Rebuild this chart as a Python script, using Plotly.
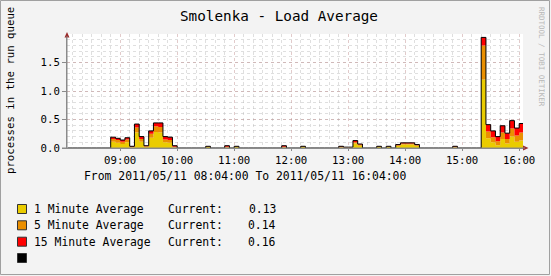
import plotly.graph_objects as go
import pandas as pd

# ---- data (5-minute samples, timestamp = end of interval) ----
times = pd.date_range("2011-05-11 08:05", periods=97, freq="5min")

one_min = [0]*10 + [
    0.11, 0.09, 0.07, 0.10, 0.01, 0.27, 0.11, 0.02, 0.18, 0.28,
    0.27, 0.10, 0.09, 0.01, 0, 0, 0, 0, 0, 0,
    0.02, 0, 0, 0, 0.01, 0, 0.02, 0, 0, 0,
    0, 0, 0, 0, 0, 0, 0.01, 0, 0, 0,
    0.02, 0, 0, 0, 0, 0, 0, 0, 0.01, 0.005,
    0.005, 0.08, 0.04, 0, 0, 0, 0.02, 0, 0.02, 0,
    0.04, 0.06, 0.06, 0.06, 0.04, 0, 0, 0, 0, 0,
    0, 0, 0.01, 0, 0, 0, 0, 0, 1.20, 0.17,
    0.10, 0.05, 0.16, 0.08, 0.20, 0.11, 0.13]

five_min = [0]*10 + [
    0.05, 0.05, 0.04, 0.05, 0.01, 0.09, 0.05, 0.01, 0.07, 0.10,
    0.10, 0.05, 0.05, 0.01, 0, 0, 0, 0, 0, 0,
    0.005, 0, 0, 0, 0.01, 0, 0.005, 0, 0, 0,
    0, 0, 0, 0, 0, 0, 0.01, 0, 0, 0,
    0.005, 0, 0, 0, 0, 0, 0, 0, 0.01, 0.005,
    0.005, 0.02, 0.02, 0, 0, 0, 0.005, 0, 0.005, 0,
    0.01, 0.02, 0.02, 0.02, 0.01, 0, 0, 0, 0, 0,
    0, 0, 0.01, 0, 0, 0, 0, 0, 0.60, 0.12,
    0.09, 0.07, 0.11, 0.08, 0.14, 0.11, 0.14]

fifteen_min = [0]*10 + [
    0.03, 0.03, 0.03, 0.03, 0.01, 0.06, 0.04, 0.01, 0.05, 0.06,
    0.07, 0.05, 0.05, 0.02, 0, 0, 0, 0, 0, 0,
    0.005, 0, 0, 0, 0.02, 0, 0.005, 0, 0, 0,
    0, 0, 0, 0, 0, 0, 0.02, 0, 0, 0,
    0.005, 0, 0, 0, 0, 0, 0, 0, 0.01, 0.005,
    0.005, 0.03, 0.01, 0, 0, 0, 0.005, 0, 0.005, 0,
    0.01, 0.01, 0.01, 0.01, 0.01, 0, 0, 0, 0, 0,
    0, 0, 0.01, 0, 0, 0, 0, 0, 0.14, 0.12,
    0.11, 0.08, 0.12, 0.10, 0.14, 0.13, 0.16]

series_names = ["1 Minute Average", "5 Minute Average", "15 Minute Average"]
series_colors = ["#EACC00", "#EA8F00", "#FF0000"]
series_values = [one_min, five_min, fifteen_min]
y_ticks = [0.0, 0.5, 1.0, 1.5]

FONT = "DejaVu Sans Mono"

# pixel -> paper helpers (plot area 67..523 x 34..148)
L, R, T, B = 67, 523, 34, 148
def px(x): return (x - L) / (R - L)
def py(y): return (B - y) / (B - T)

fig = go.Figure()
for name, col, vals in zip(series_names, series_colors, series_values):
    fig.add_trace(go.Scatter(
        x=times, y=vals, name=name, mode="lines", stackgroup="load",
        line=dict(width=0, shape="vh", color=col), fillcolor=col,
        showlegend=False, hoverinfo="skip"))

total = [a + b + c for a, b, c in zip(one_min, five_min, fifteen_min)]
fig.add_trace(go.Scatter(x=times, y=total, mode="lines",
                         line=dict(width=1, shape="vh", color="#000000"),
                         showlegend=False, hoverinfo="skip"))

MAJ = "rgba(190,140,140,0.45)"
MIN = "rgba(185,185,185,0.45)"

fig.update_layout(
    width=551, height=276,
    margin=dict(l=L, r=551 - R, t=T, b=276 - B, pad=0),
    paper_bgcolor="#F3F3F3", plot_bgcolor="#FFFFFF",
    font=dict(family=FONT, size=10.7, color="#000000"),
    xaxis=dict(
        type="date",
        range=["2011-05-11 08:04:00", "2011-05-11 16:04:00"],
        dtick=3600000, tick0="2011-05-11 00:00:00", tickformat="%H:%M",
        showgrid=True, gridcolor=MAJ, griddash="dot", gridwidth=1,
        minor=dict(dtick=600000, tick0="2011-05-11 08:00:00", showgrid=True,
                   gridcolor=MIN, griddash="dot"),
        showline=True, linecolor="#8a8a8a", linewidth=1,
        ticks="outside", ticklen=2, tickcolor="#8a8a8a",
        tickfont=dict(family=FONT, size=10.7),
        zeroline=False, fixedrange=True),
    yaxis=dict(
        range=[0, 2], tickvals=y_ticks, ticktext=[f"{v:.1f}" for v in y_ticks],
        showgrid=True, gridcolor=MAJ, griddash="dot",
        minor=dict(dtick=0.1, showgrid=True, gridcolor=MIN, griddash="dot"),
        showline=True, linecolor="#8a8a8a", linewidth=1,
        ticks="outside", ticklen=4, tickcolor="#8a8a8a",
        tickfont=dict(family=FONT, size=10.7),
        zeroline=False, fixedrange=True),
)

ann = []
ann.append(dict(text="Smolenka - Load Average", x=px(279), y=py(16), xref="paper", yref="paper",
                showarrow=False, xanchor="center", yanchor="middle",
                font=dict(family=FONT, size=14.3, color="#000000")))
ann.append(dict(text="processes in the run queue", x=px(10), y=py(91), xref="paper", yref="paper",
                showarrow=False, xanchor="center", yanchor="middle", textangle=-90,
                font=dict(family=FONT, size=10.7, color="#000000")))
ann.append(dict(text="RRDTOOL / TOBI OETIKER", x=px(542), y=py(57), xref="paper", yref="paper",
                showarrow=False, xanchor="center", yanchor="middle", textangle=90,
                font=dict(family=FONT, size=7.5, color="#B8B8B8")))
ann.append(dict(text="From 2011/05/11 08:04:00 To 2011/05/11 16:04:00", x=px(82), y=py(175.5),
                xref="paper", yref="paper", showarrow=False, xanchor="left", yanchor="middle",
                font=dict(family=FONT, size=11.4, color="#000000")))

shapes = []
rows_y = [209, 225.3, 241.7, 258]
legend_cols = series_colors + ["#000000"]
for i, yy in enumerate(rows_y):
    shapes.append(dict(type="rect", xref="paper", yref="paper",
                       x0=px(17.5), x1=px(26.5), y0=py(yy - 4.5), y1=py(yy + 4.5),
                       fillcolor=legend_cols[i], line=dict(color="#333333", width=1)))
for i, name in enumerate(series_names):
    yy = rows_y[i]
    ann.append(dict(text=name, x=px(31.5), y=py(yy), xref="paper", yref="paper",
                    showarrow=False, xanchor="left", yanchor="middle",
                    font=dict(family=FONT, size=11.4)))
    ann.append(dict(text="Current:", x=px(165.5), y=py(yy), xref="paper", yref="paper",
                    showarrow=False, xanchor="left", yanchor="middle",
                    font=dict(family=FONT, size=11.4)))
    ann.append(dict(text=f"{series_values[i][-1]:.2f}", x=px(278), y=py(yy), xref="paper",
                    yref="paper", showarrow=False, xanchor="right", yanchor="middle",
                    font=dict(family=FONT, size=11.4)))

# axis arrows
shapes.append(dict(type="path", xref="paper", yref="paper",
                   path=f"M {px(64.5)} {py(37.5)} L {px(69.5)} {py(37.5)} L {px(67)} {py(32)} Z",
                   fillcolor="#9A2B2B", line=dict(width=0)))
shapes.append(dict(type="path", xref="paper", yref="paper",
                   path=f"M {px(523)} {py(145.5)} L {px(523)} {py(150.5)} L {px(528.5)} {py(148)} Z",
                   fillcolor="#9A2B2B", line=dict(width=0)))
shapes.append(dict(type="line", xref="paper", yref="paper",
                   x0=px(67), x1=px(67), y0=py(148), y1=py(36), line=dict(color="#8a8a8a", width=1)))
shapes.append(dict(type="line", xref="paper", yref="paper",
                   x0=px(62), x1=px(525), y0=py(148), y1=py(148), line=dict(color="#8a8a8a", width=1)))
# image border
shapes.append(dict(type="rect", xref="paper", yref="paper",
                   x0=px(0.5), x1=px(549.5), y0=py(0.5), y1=py(274.5),
                   line=dict(color="#A0A0A0", width=1)))

fig.update_layout(annotations=ann, shapes=shapes)
fig.write_html("out.html")
